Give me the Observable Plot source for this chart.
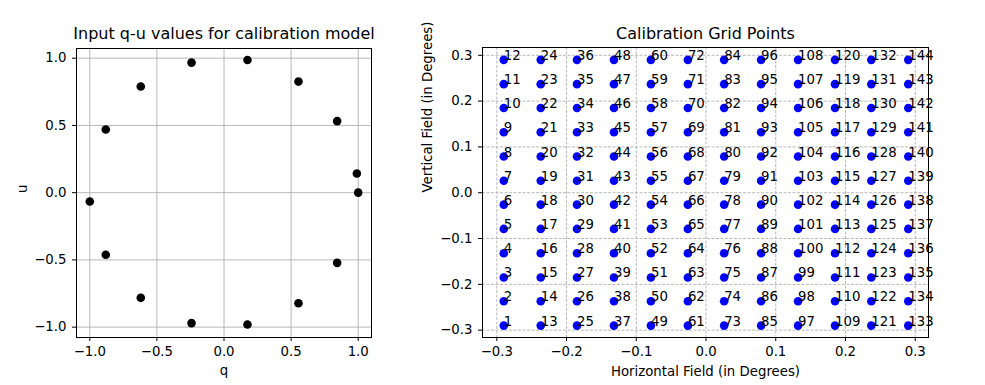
<!DOCTYPE html>
<html>
<head>
<meta charset="utf-8">
<script src="https://cdn.jsdelivr.net/npm/d3@7"></script>
<script src="https://cdn.jsdelivr.net/npm/@observablehq/plot@0.6"></script>
<style>
  html, body { margin: 0; padding: 0; background: #fff; }
  #wrap { position: relative; width: 985px; height: 385px; overflow: hidden; }
  #left { position: absolute; left: 0; top: 0; }
  #right { position: absolute; left: 400px; top: 0; }
</style>
</head>
<body>
<div id="wrap"><div id="left"></div><div id="right"></div></div>
<script>
// Left panel: input q-u values
const qValues = [1.0, 0.99, 0.843, 0.555, 0.175, -0.242, -0.62, -0.881, -1.0, -0.881, -0.62, -0.242, 0.175, 0.555, 0.843];
const uValues = [0.0, 0.142, 0.532, 0.826, 0.987, 0.967, 0.789, 0.470, -0.066, -0.462, -0.782, -0.970, -0.980, -0.822, -0.522];
const leftTicks = [-1.0, -0.5, 0.0, 0.5, 1.0];

// Right panel: calibration grid
const hField = [-0.29, -0.237, -0.185, -0.132, -0.079, -0.026, 0.026, 0.079, 0.132, 0.185, 0.237, 0.29];
const vField = [-0.29, -0.237, -0.185, -0.132, -0.079, -0.026, 0.026, 0.079, 0.132, 0.185, 0.237, 0.29];
const rightTicks = [-0.3, -0.2, -0.1, 0.0, 0.1, 0.2, 0.3];

const font = "DejaVu Sans, sans-serif";
const tickFs = 13.3, labelFs = 13.3, titleFs = 16;

const qu = qValues.map((q, i) => ({q, u: uValues[i]}));
const gridPts = [];
hField.forEach((h, i) => vField.forEach((v, j) => gridPts.push({h, v, label: String(i * vField.length + j + 1)})));

const left = Plot.plot({
  width: 390, height: 385,
  marginLeft: 76, marginRight: 19, marginTop: 48, marginBottom: 48,
  style: {fontFamily: font, fontSize: tickFs + "px", color: "#000", background: "#fff", overflow: "visible"},
  x: {domain: [-1.099, 1.099]},
  y: {domain: [-1.077, 1.072]},
  marks: [
    Plot.gridX(leftTicks, {stroke: "#b0b0b0", strokeOpacity: 1, strokeWidth: 0.9}),
    Plot.gridY(leftTicks, {stroke: "#b0b0b0", strokeOpacity: 1, strokeWidth: 0.9}),
    Plot.axisX(leftTicks, {tickFormat: d3.format(".1f"), tickSize: 4, tickPadding: 5, label: null, fontSize: tickFs}),
    Plot.axisY(leftTicks, {tickFormat: d3.format(".1f"), tickSize: 4, tickPadding: 6, label: null, fontSize: tickFs}),
    Plot.frame({stroke: "#000", strokeWidth: 1}),
    Plot.dot(qu, {x: "q", y: "u", r: 4.3, fill: "#000", stroke: "none"}),
    Plot.text(["Input q-u values for calibration model"], {frameAnchor: "top", dy: -15, fontSize: titleFs, lineAnchor: "middle", fill: "#000"}),
    Plot.text(["q"], {frameAnchor: "bottom", dy: 33, fontSize: labelFs, lineAnchor: "middle", fill: "#000"}),
    Plot.text(["u"], {frameAnchor: "left", dx: -54, rotate: -90, fontSize: labelFs, lineAnchor: "middle", fill: "#000"})
  ]
});
document.getElementById("left").append(left);

const right = Plot.plot({
  width: 585, height: 385,
  marginLeft: 82, marginRight: 57, marginTop: 47, marginBottom: 48,
  style: {fontFamily: font, fontSize: tickFs + "px", color: "#000", background: "#fff", overflow: "visible"},
  x: {domain: [-0.3205, 0.319]},
  y: {domain: [-0.316, 0.317]},
  marks: [
    Plot.gridX(rightTicks, {stroke: "#b0b0b0", strokeOpacity: 1, strokeWidth: 0.9, strokeDasharray: "3,1.5"}),
    Plot.gridY(rightTicks, {stroke: "#b0b0b0", strokeOpacity: 1, strokeWidth: 0.9, strokeDasharray: "3,1.5"}),
    Plot.axisX(rightTicks, {tickFormat: d3.format(".1f"), tickSize: 4, tickPadding: 5, label: null, fontSize: tickFs}),
    Plot.axisY(rightTicks, {tickFormat: d3.format(".1f"), tickSize: 4, tickPadding: 6, label: null, fontSize: tickFs}),
    Plot.frame({stroke: "#000", strokeWidth: 1}),
    Plot.dot(gridPts, {x: "h", y: "v", r: 4.3, fill: "#0000ff", stroke: "none"}),
    Plot.text(gridPts, {x: "h", y: "v", text: "label", textAnchor: "start", lineAnchor: "bottom", fontSize: labelFs, fill: "#000"}),
    Plot.text(["Calibration Grid Points"], {frameAnchor: "top", dy: -14, fontSize: titleFs, lineAnchor: "middle", fill: "#000"}),
    Plot.text(["Horizontal Field (in Degrees)"], {frameAnchor: "bottom", dy: 34, fontSize: labelFs, lineAnchor: "middle", fill: "#000"}),
    Plot.text(["Vertical Field (in Degrees)"], {frameAnchor: "left", dx: -55, rotate: -90, fontSize: labelFs, lineAnchor: "middle", fill: "#000"})
  ]
});
document.getElementById("right").append(right);
</script>
</body>
</html>
